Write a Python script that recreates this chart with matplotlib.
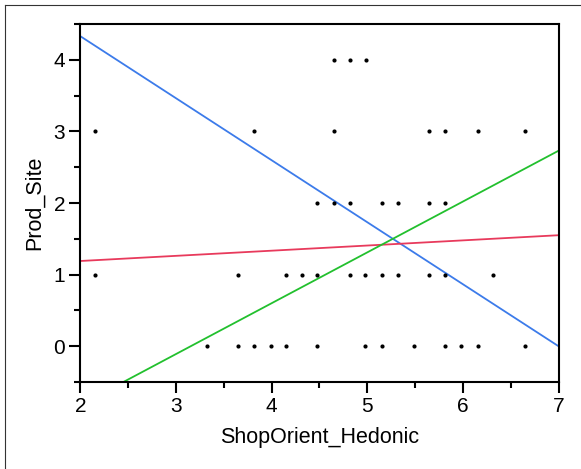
import matplotlib
matplotlib.use("Agg")
import matplotlib.pyplot as plt
from matplotlib.lines import Line2D
from matplotlib.ticker import MultipleLocator

plt.rcParams["font.family"] = ["Liberation Sans", "DejaVu Sans"]

# ── data ────────────────────────────────────────────────────────────────────
X_Y0 = [3.32, 3.65, 3.82, 3.99, 4.15, 4.48, 4.98, 5.15, 5.485, 5.815, 5.985, 6.156, 6.65]
X_Y1 = [2.156, 3.65, 4.15, 4.32, 4.48, 4.82, 4.98, 5.15, 5.32, 5.65, 5.815, 6.32]
X_Y2 = [4.48, 4.65, 4.82, 5.15, 5.32, 5.65, 5.815]
X_Y3 = [2.156, 3.82, 4.65, 5.65, 5.815, 6.156, 6.65]
X_Y4 = [4.65, 4.82, 4.99]

# fit lines: (y at x=2, y at x=7)
LINE_X = [2, 7]
BLUE_Y = [4.33, 0.0]
RED_Y = [1.19, 1.55]
GREEN_Y = [-0.82, 2.73]

BLUE, RED, GREEN = "#3C7BEA", "#E83A5C", "#22C02E"

fig = plt.figure(figsize=(5.81, 4.69), dpi=100)
ax = fig.add_axes([0.1382, 0.1855, 0.8231, 0.7633])

for ys, xs in enumerate([X_Y0, X_Y1, X_Y2, X_Y3, X_Y4]):
    ax.scatter(xs, [ys] * len(xs), s=9, color="black", linewidths=0, zorder=3)

ax.plot(LINE_X, BLUE_Y, color=BLUE, lw=1.3)
ax.plot(LINE_X, RED_Y, color=RED, lw=1.3)
ax.plot(LINE_X, GREEN_Y, color=GREEN, lw=1.3)

ax.set_xlim(2, 7)
ax.set_ylim(-0.5, 4.5)
ax.xaxis.set_major_locator(MultipleLocator(1))
ax.xaxis.set_minor_locator(MultipleLocator(0.5))
ax.yaxis.set_major_locator(MultipleLocator(1))
ax.yaxis.set_minor_locator(MultipleLocator(0.5))
ax.tick_params(which="major", direction="out", length=8, width=1.5, labelsize=15, pad=3)
ax.tick_params(which="minor", direction="out", length=4, width=1.5)
for sp in ax.spines.values():
    sp.set_linewidth(1.5)

ax.set_xlabel("ShopOrient_Hedonic", fontsize=15.5, labelpad=8)
ax.set_ylabel("Prod_Site", fontsize=15.5, labelpad=6)

# outer frame (left + top edges visible in the reference)
fig.add_artist(Line2D([4.5 / 581, 4.5 / 581], [0, 1 - 5 / 469], transform=fig.transFigure,
                      color="#333333", lw=0.8))
fig.add_artist(Line2D([4.5 / 581, 1], [1 - 5 / 469, 1 - 5 / 469], transform=fig.transFigure,
                      color="#333333", lw=0.8))

fig.savefig("out.png", dpi=100, facecolor="white")
